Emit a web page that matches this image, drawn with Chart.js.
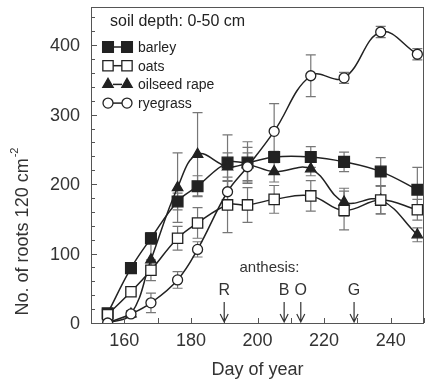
<!DOCTYPE html>
<html>
<head>
<meta charset="utf-8">
<script src="https://cdn.jsdelivr.net/npm/chart.js@4"></script>
<style>
  html, body { margin: 0; padding: 0; background: #fff; }
  #wrap { width: 426px; height: 384px; }
</style>
</head>
<body>
<div id="wrap"><canvas id="roots"></canvas></div>
<script>
// sampling days and root counts (0-50 cm soil layer)
let days = [155, 162, 168, 176, 182, 191, 197, 205, 216, 226, 237, 248];
let barley   = [14, 79, 122, 175, 197, 231, 231, 239, 239, 232, 218, 192];
let oats     = [12, 45, 76, 122, 144, 170, 170, 178, 183, 162, 177, 163];
let rape     = [0, 13, 91, 195, 243, 225, 228, 218, 222, 174, 177, 127];
let ryegrass = [0, 13, 29, 62, 106, 189, 225, 276, 356, 353, 419, 387];

// standard errors
let barleyErr   = [4, 6, 8, 12, 15, 40, 30, 8, 15, 14, 20, 32];
let oatsErr     = [4, 6, 15, 17, 22, 40, 25, 20, 22, 28, 20, 15];
let rapeErr     = [2, 5, 22, 50, 60, 20, 25, 15, 10, 20, 20, 10];
let ryegrassErr = [2, 4, 14, 12, 11, 15, 20, 40, 30, 8, 8, 8];

let anthesisDays = [190, 208, 213, 229];
let anthesisLabels = ["R", "B", "O", "G"];

let xTicks = [160, 180, 200, 220, 240];
let yTicks = [0, 100, 200, 300, 400];

const FONT = "'Liberation Sans', Arial, sans-serif";
const INK = "#222";
const TEXT = "#333";

function pts(vals) {
    return vals.map((v, i) => ({ x: days[i], y: v }));
}

function series(label, vals, errs, style, fill, radius) {
    return {
        label: label,
        data: pts(vals),
        errors: errs,
        borderColor: INK,
        borderWidth: 1.5,
        tension: 0.4,
        pointStyle: style,
        pointRadius: radius,
        pointHoverRadius: radius,
        pointBackgroundColor: fill,
        pointBorderColor: INK,
        pointBorderWidth: 1.3
    };
}

let datasets = [
    series("ryegrass", ryegrass, ryegrassErr, "circle", "#fff", 5),
    series("oats", oats, oatsErr, "rect", "#fff", 7.3),
    series("oilseed rape", rape, rapeErr, "triangle", INK, 6),
    series("barley", barley, barleyErr, "rect", INK, 7.6)
];

// error bars under the markers
const errorBars = {
    id: "errorBars",
    beforeDatasetsDraw(chart) {
        let ctx = chart.ctx, xs = chart.scales.x, ys = chart.scales.y;
        ctx.save();
        ctx.strokeStyle = "#777";
        ctx.lineWidth = 1.2;
        chart.data.datasets.forEach(ds => {
            ds.data.forEach((p, i) => {
                let e = ds.errors[i];
                if (!e) return;
                let x = xs.getPixelForValue(p.x);
                let y1 = ys.getPixelForValue(p.y + e);
                let y2 = ys.getPixelForValue(Math.max(0, p.y - e));
                ctx.beginPath();
                ctx.moveTo(x, y1); ctx.lineTo(x, y2);
                ctx.moveTo(x - 5, y1); ctx.lineTo(x + 5, y1);
                ctx.moveTo(x - 5, y2); ctx.lineTo(x + 5, y2);
                ctx.stroke();
            });
        });
        ctx.restore();
    }
};

// box, tick marks and labels, legend, anthesis arrows, y title
const decorations = {
    id: "decorations",
    afterDraw(chart) {
        let ctx = chart.ctx, a = chart.chartArea;
        let xs = chart.scales.x, ys = chart.scales.y;
        ctx.save();

        ctx.strokeStyle = "#555";
        ctx.lineWidth = 1;
        ctx.strokeRect(a.left + 0.5, a.top + 0.5, a.right - a.left - 1, a.bottom - a.top);

        ctx.beginPath();
        for (let d = 150; d <= 250; d += 10) {
            let x = Math.round(xs.getPixelForValue(d)) + 0.5;
            ctx.moveTo(x, a.bottom); ctx.lineTo(x, a.bottom - 5);
        }
        for (let v = 0; v <= 440; v += 20) {
            let y = Math.round(ys.getPixelForValue(v)) + 0.5;
            let len = v % 100 === 0 ? 6 : 4;
            ctx.moveTo(a.left, y); ctx.lineTo(a.left + len, y);
        }
        ctx.stroke();

        // tick labels
        ctx.fillStyle = TEXT;
        ctx.font = "18px " + FONT;
        ctx.textAlign = "center";
        ctx.textBaseline = "top";
        xTicks.forEach(v => ctx.fillText(String(v), xs.getPixelForValue(v), a.bottom + 9));
        ctx.textAlign = "right";
        ctx.textBaseline = "middle";
        yTicks.forEach(v => ctx.fillText(String(v), a.left - 11, ys.getPixelForValue(v) + 1));

        // anthesis markers
        ctx.font = "15px " + FONT;
        ctx.textAlign = "center";
        ctx.fillText("anthesis:", xs.getPixelForValue(203.6), 268);
        ctx.strokeStyle = TEXT;
        ctx.lineWidth = 1.2;
        anthesisDays.forEach((d, i) => {
            let x = xs.getPixelForValue(d);
            ctx.font = "16px " + FONT;
            ctx.fillText(anthesisLabels[i], x, 291);
            let yTop = a.bottom - 21, yTip = a.bottom - 1;
            ctx.beginPath();
            ctx.moveTo(x, yTop); ctx.lineTo(x, yTip);
            ctx.moveTo(x - 4, yTip - 8); ctx.lineTo(x, yTip); ctx.lineTo(x + 4, yTip - 8);
            ctx.stroke();
        });

        // legend block
        ctx.textAlign = "left";
        ctx.fillStyle = INK;
        ctx.font = "16px " + FONT;
        ctx.fillText("soil depth: 0-50 cm", 110, 22);
        let rows = [
            ["barley", "rect", INK, 7.6],
            ["oats", "rect", "#fff", 7.3],
            ["oilseed rape", "triangle", INK, 6],
            ["ryegrass", "circle", "#fff", 5]
        ];
        ctx.font = "14px " + FONT;
        rows.forEach((r, i) => {
            let y = 47 + i * 18.7;
            ctx.strokeStyle = INK;
            ctx.lineWidth = 1.5;
            ctx.beginPath(); ctx.moveTo(113, y); ctx.lineTo(122, y); ctx.stroke();
            [108, 127].forEach(x => {
                ctx.fillStyle = r[2];
                ctx.lineWidth = 1.3;
                Chart.helpers.drawPoint(ctx, { pointStyle: r[1], radius: r[3], borderWidth: 1.3 }, x, y);
            });
            ctx.fillStyle = INK;
            ctx.fillText(r[0], 138, y + 1);
        });

        // y axis title with superscript
        ctx.translate(23, 232);
        ctx.rotate(-Math.PI / 2);
        ctx.fillStyle = TEXT;
        ctx.textBaseline = "middle";
        ctx.font = "18px " + FONT;
        let main = "No. of roots 120 cm";
        let w = ctx.measureText(main).width;
        ctx.font = "11px " + FONT;
        let sw = ctx.measureText("-2").width;
        let x0 = -(w + sw) / 2;
        ctx.font = "18px " + FONT;
        ctx.fillText(main, x0, 0);
        ctx.font = "11px " + FONT;
        ctx.fillText("-2", x0 + w + 1, -8);

        ctx.restore();
    }
};

new Chart(document.getElementById("roots"), {
    type: "line",
    data: { datasets: datasets },
    options: {
        responsive: true,
        maintainAspectRatio: false,
        animation: false,
        layout: { autoPadding: false, padding: { top: 7, right: 2, left: 0, bottom: 0 } },
        plugins: { legend: { display: false }, tooltip: { enabled: false } },
        scales: {
            x: {
                type: "linear",
                min: 150, max: 250,
                afterFit: s => { s.height = 61; },
                grid: { display: false, drawTicks: false },
                border: { display: false },
                ticks: { display: false },
                title: {
                    display: true, text: "Day of year", color: TEXT,
                    font: { family: FONT, size: 18 }, padding: { top: 2, bottom: 3 }
                }
            },
            y: {
                min: 0, max: 455,
                afterFit: s => { s.width = 91; },
                grid: { display: false, drawTicks: false },
                border: { display: false },
                ticks: { display: false }
            }
        }
    },
    plugins: [errorBars, decorations]
});
</script>
</body>
</html>
